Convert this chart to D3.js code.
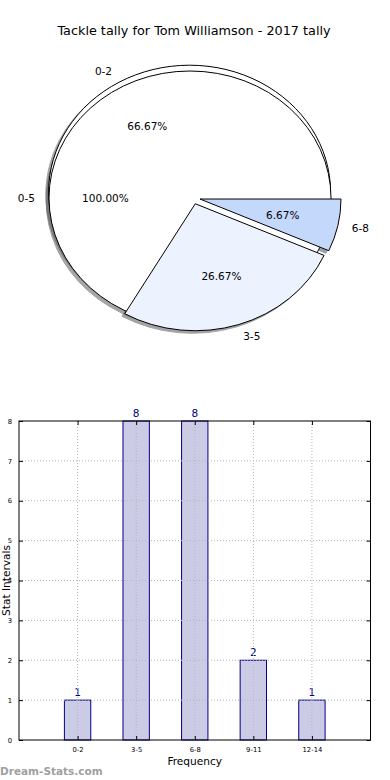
<!DOCTYPE html>
<html><head><meta charset="utf-8">
<script src="https://cdn.jsdelivr.net/npm/d3@7/dist/d3.min.js"></script>
<style>html,body{margin:0;padding:0;background:#fff;}svg{display:block;font-family:"DejaVu Sans",sans-serif;}</style>
</head><body>
<script>
// ---- data ----
const chartTitle = "Tackle tally for Tom Williamson - 2017 tally";
const pieLabels = ["0-2", "3-5", "6-8"];
const pieValues = [66.67, 26.67, 6.67];
const pieColors = ["#ffffff", "#ecf2fe", "#c4d8fc"];
const outerLabel = "0-5";
const outerValue = 100.00;
const outerColor = "#ffffff";
const barCategories = ["0-2", "3-5", "6-8", "9-11", "12-14"];
const barValues = [1, 8, 8, 2, 1];
const yTicks = [0, 1, 2, 3, 4, 5, 6, 7, 8];
const xLabel = "Frequency";
const yLabel = "Stat Intervals";
const watermark = "Dream-Stats.com";

const W = 390, H = 780;
const svg = d3.select("body").append("svg").attr("width", W).attr("height", H);

svg.append("text").attr("x", 194).attr("y", 34.5).attr("text-anchor", "middle")
  .attr("font-size", 12.8).attr("fill", "#000").text(chartTitle);

// ---- pie ----
const rx = 141, ry = 127, ex = 0.05;
const c1 = [193.1, 197.7];
const c0 = [190, 198];
const arcGen = d3.arc().innerRadius(0).outerRadius(ry);
const pieGen = d3.pie().sort(null).value(d => d)
  .startAngle(Math.PI / 2).endAngle(Math.PI / 2 - 2 * Math.PI);

const wedges = pieGen(pieValues).map((d, i) => {
  const mid = (d.startAngle + d.endAngle) / 2;
  return {d, label: pieLabels[i], pct: pieValues[i], color: pieColors[i], mid,
    cx: c1[0] + ex * rx * Math.sin(mid), cy: c1[1] - ex * ry * Math.cos(mid)};
});
const outer = {d: {startAngle: 0, endAngle: 2 * Math.PI}, label: outerLabel, pct: outerValue,
  color: outerColor, mid: -Math.PI / 2, cx: c0[0], cy: c0[1]};

// drawing order: 0-2, 0-5, 3-5, 6-8
const order = [wedges[0], outer, wedges[1], wedges[2]];
const shadowG = svg.append("g");
const pieG = svg.append("g");
function shade(c) {
  const k = d3.rgb(c);
  return d3.rgb(k.r * 0.3, k.g * 0.3, k.b * 0.3).toString();
}
order.forEach(w => {
  const sc = shade(w.color);
  shadowG.append("path").attr("d", arcGen(w.d))
    .attr("transform", `translate(${w.cx - 0.02 * rx},${w.cy + 0.02 * ry}) scale(${rx / ry},1)`)
    .attr("fill", sc).attr("stroke", sc).attr("stroke-width", 1).attr("opacity", 0.5)
    .attr("vector-effect", "non-scaling-stroke");
});
order.forEach(w => {
  pieG.append("path").attr("d", arcGen(w.d))
    .attr("transform", `translate(${w.cx},${w.cy}) scale(${rx / ry},1)`)
    .attr("fill", w.color).attr("stroke", "#000").attr("stroke-width", 1)
    .attr("stroke-linejoin", "round")
    .attr("vector-effect", "non-scaling-stroke");
});
order.forEach(w => {
  const lx = w.cx + 1.1 * rx * Math.sin(w.mid), ly = w.cy - 1.1 * ry * Math.cos(w.mid);
  svg.append("text").attr("x", lx).attr("y", ly).attr("dy", "0.35em")
    .attr("text-anchor", lx > w.cx ? "start" : "end").attr("font-size", 10.5).text(w.label);
  const px = w.cx + 0.6 * rx * Math.sin(w.mid), py = w.cy - 0.6 * ry * Math.cos(w.mid);
  svg.append("text").attr("x", px).attr("y", py).attr("dy", "0.35em")
    .attr("text-anchor", "middle").attr("font-size", 10.5).text(w.pct.toFixed(2) + "%");
});

// ---- bar chart ----
const px0 = 19, px1 = 370.5, py0 = 421, py1 = 740;
const x = d3.scaleLinear().domain([0, barCategories.length + 1]).range([px0, px1]);
const y = d3.scaleLinear().domain([0, 8]).range([py1, py0]);
const bw = 0.45;
const g = svg.append("g");
const gridCol = "#b5b5b5";
// bars
barCategories.forEach((c, i) => {
  const v = barValues[i];
  g.append("rect").attr("x", x(i + 1 - bw / 2)).attr("width", x(bw) - x(0))
    .attr("y", y(v)).attr("height", y(0) - y(v))
    .attr("fill", "rgba(160,160,210,0.55)").attr("stroke", "#000088").attr("stroke-width", 1);
  g.append("text").attr("x", x(i + 1)).attr("y", y(v) - 4).attr("text-anchor", "middle")
    .attr("font-size", 10.5).attr("fill", "#000080").text(v);
});
// grid (drawn over bars, as in the reference)
barCategories.forEach((c, i) => {
  g.append("line").attr("x1", x(i + 1)).attr("x2", x(i + 1)).attr("y1", py0).attr("y2", py1)
    .attr("stroke", gridCol).attr("stroke-dasharray", "1,2");
});
yTicks.slice(1, -1).forEach(t => {
  g.append("line").attr("x1", px0).attr("x2", px1).attr("y1", y(t)).attr("y2", y(t))
    .attr("stroke", gridCol).attr("stroke-dasharray", "1,2");
});
// frame
g.append("rect").attr("x", px0).attr("y", py0).attr("width", px1 - px0).attr("height", py1 - py0)
  .attr("fill", "none").attr("stroke", "#000").attr("stroke-width", 1);
// axes ticks
const yAx = d3.axisLeft(y).tickValues(yTicks).tickSize(-4).tickPadding(7).tickFormat(d3.format("d"));
const yG = svg.append("g").attr("transform", `translate(${px0},0)`).call(yAx);
const yR = svg.append("g").attr("transform", `translate(${px1},0)`)
  .call(d3.axisRight(y).tickValues(yTicks).tickSize(-4).tickFormat(""));
const xAx = d3.axisBottom(x).tickValues(barCategories.map((c, i) => i + 1)).tickSize(-4).tickPadding(7)
  .tickFormat((d, i) => barCategories[i]);
const xG = svg.append("g").attr("transform", `translate(0,${py1})`).call(xAx);
const xT = svg.append("g").attr("transform", `translate(0,${py0})`)
  .call(d3.axisTop(x).tickValues(barCategories.map((c, i) => i + 1)).tickSize(-4).tickFormat(""));
[yG, yR, xG, xT].forEach(a => {
  a.select(".domain").remove();
  a.selectAll("text").attr("font-size", 6.8).attr("font-family", "DejaVu Sans").attr("fill", "#000");
  a.selectAll("line").attr("stroke", "#000");
});
svg.append("text").attr("x", (px0 + px1) / 2).attr("y", 764.5).attr("text-anchor", "middle")
  .attr("font-size", 10.6).text(xLabel);
svg.append("text").attr("transform", `translate(9.5,${(py0 + py1) / 2}) rotate(-90)`)
  .attr("text-anchor", "middle").attr("font-size", 10.6).text(yLabel);
svg.append("text").attr("x", 0).attr("y", 775).attr("font-size", 10.5).attr("font-weight", "bold")
  .attr("fill", "#a0a0a0").text(watermark);
</script>
</body></html>
